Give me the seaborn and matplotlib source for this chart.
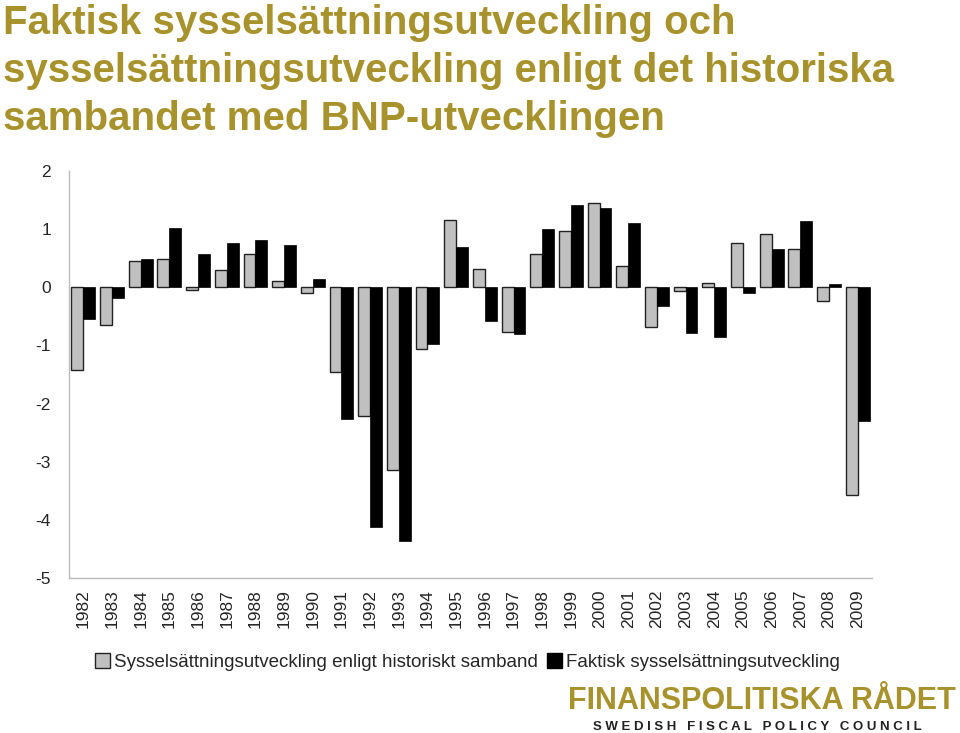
import matplotlib
matplotlib.use("Agg")
import matplotlib.pyplot as plt
import seaborn as sns
import pandas as pd
import numpy as np
from matplotlib.patches import Patch

years = [str(y) for y in range(1982, 2010)]
historiskt = [-1.43, -0.65, 0.45, 0.48, -0.05, 0.29, 0.57, 0.11, -0.09, -1.46,
              -2.21, -3.14, -1.07, 1.15, 0.32, -0.77, 0.57, 0.96, 1.45, 0.36,
              -0.69, -0.07, 0.07, 0.77, 0.92, 0.66, -0.24, -3.57]
faktisk = [-0.54, -0.19, 0.48, 1.02, 0.57, 0.76, 0.81, 0.73, 0.15, -2.26,
           -4.12, -4.36, -0.97, 0.69, -0.58, -0.81, 1.00, 1.42, 1.36, 1.10,
           -0.33, -0.79, -0.85, -0.10, 0.65, 1.14, 0.06, -2.30]
series_names = ["Sysselsättningsutveckling enligt historiskt samband",
                "Faktisk sysselsättningsutveckling"]
title_lines = ["Faktisk sysselsättningsutveckling och",
               "sysselsättningsutveckling enligt det historiska",
               "sambandet med BNP-utvecklingen"]

df = pd.DataFrame({
    "År": years * 2,
    "Värde": historiskt + faktisk,
    "Serie": [series_names[0]] * len(years) + [series_names[1]] * len(years),
})

sns.set_style("white")
plt.rcParams["font.family"] = ["Liberation Sans", "DejaVu Sans"]

gold = "#A8922C"
grey = "#C0C0C0"

fig = plt.figure(figsize=(9.6, 7.33), dpi=100)
ax = fig.add_axes([69/960, 1-578/733, (872-69)/960, (578-171)/733])

sns.barplot(data=df, x="År", y="Värde", hue="Serie", order=years,
            hue_order=series_names, palette=[grey, "#000000"],
            width=0.83, ax=ax, legend=False, saturation=1)
for i, p in enumerate(ax.patches):
    if i < len(years):
        p.set_edgecolor("#222222")
        p.set_linewidth(1.0)
    else:
        p.set_edgecolor("#000000")
        p.set_linewidth(0.5)

ax.set_ylim(-5, 2)
ax.set_xlim(-0.5, len(years) - 0.5)
ax.set_yticks(range(-5, 3))
ax.set_yticklabels([str(v) for v in range(-5, 3)], fontsize=12.5)
ax.set_xlabel("")
ax.set_ylabel("")
ax.tick_params(axis="x", which="major", length=0, rotation=90, labelsize=12.5, pad=8)
ax.set_xticks(np.arange(-0.5, len(years), 1), minor=True)
ax.tick_params(axis="x", which="minor", length=5, color="#BBBBBB", direction="out")
ax.tick_params(axis="y", length=5, color="#BBBBBB", direction="out", pad=8)
for s in ["top", "right"]:
    ax.spines[s].set_visible(False)
for s in ["left", "bottom"]:
    ax.spines[s].set_color("#BBBBBB")
    ax.spines[s].set_linewidth(1.0)

fig.text(0.003, 0.994, "\n".join(title_lines), color=gold, fontsize=29,
         fontweight="bold", va="top", ha="left", linespacing=1.32)

handles = [Patch(facecolor=grey, edgecolor="#222222", linewidth=1.0),
           Patch(facecolor="#000000", edgecolor="#000000")]
fig.legend(handles, series_names, loc="center", bbox_to_anchor=(0.487, 1-662/733),
           ncol=2, frameon=False, fontsize=13.5, handlelength=0.8, handleheight=0.8,
           handletextpad=0.2, columnspacing=0.5)

fig.text(956/960, 1-701/733, "FINANSPOLITISKA RÅDET", color=gold, fontsize=22,
         fontweight="bold", ha="right", va="center")
fig.text(922/960, 1-727/733, "S W E D I S H   F I S C A L   P O L I C Y   C O U N C I L",
         color="#222222", fontsize=9.5, fontweight="bold", ha="right", va="center")

fig.savefig("out.png", dpi=100)
